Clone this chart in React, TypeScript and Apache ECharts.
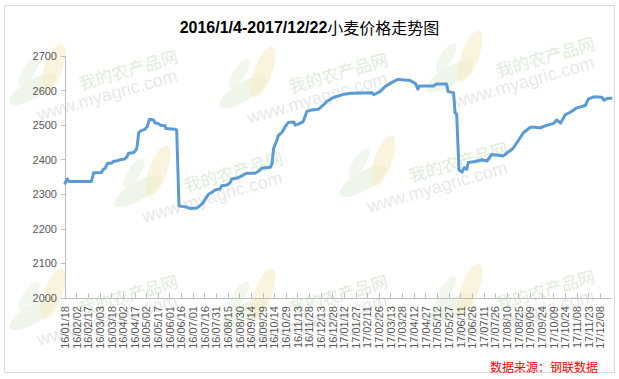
import React, { useEffect, useRef } from 'react';
import * as echarts from 'echarts';

// Axis range and tick layout
const axisStart = '2016-01-18';
const axisEnd = '2017-12-22';
const labelStepDays = 15;
const yMin = 2000;
const yMax = 2700;
const yStep = 100;

// Wheat price (元/吨) turning points
const priceDates = [
  '2016-01-18', '2016-01-21', '2016-01-23', '2016-02-21', '2016-02-24', '2016-03-05',
  '2016-03-07', '2016-03-10', '2016-03-13', '2016-03-18', '2016-03-20', '2016-03-27',
  '2016-03-29', '2016-04-04', '2016-04-07', '2016-04-09', '2016-04-16', '2016-04-19',
  '2016-04-20', '2016-04-22', '2016-04-25', '2016-04-30', '2016-05-03', '2016-05-06',
  '2016-05-11', '2016-05-13', '2016-05-17', '2016-05-20', '2016-05-26', '2016-05-27',
  '2016-06-08', '2016-06-10', '2016-06-13', '2016-06-16', '2016-06-23', '2016-06-27',
  '2016-07-06', '2016-07-10', '2016-07-14', '2016-07-21', '2016-07-25', '2016-07-30',
  '2016-08-05', '2016-08-07', '2016-08-14', '2016-08-18', '2016-08-20', '2016-08-27',
  '2016-08-31', '2016-09-04', '2016-09-08', '2016-09-19', '2016-09-23', '2016-09-28',
  '2016-10-09', '2016-10-11', '2016-10-13', '2016-10-17', '2016-10-19', '2016-10-24',
  '2016-10-28', '2016-11-01', '2016-11-08', '2016-11-10', '2016-11-14', '2016-11-20',
  '2016-11-25', '2016-12-01', '2016-12-10', '2016-12-14', '2016-12-21', '2016-12-29',
  '2017-01-11', '2017-01-20', '2017-02-17', '2017-02-19', '2017-02-27', '2017-03-06',
  '2017-03-14', '2017-03-23', '2017-03-27', '2017-04-07', '2017-04-14', '2017-04-17',
  '2017-04-19', '2017-05-07', '2017-05-11', '2017-05-24', '2017-05-26', '2017-06-02',
  '2017-06-04', '2017-06-06', '2017-06-09', '2017-06-13', '2017-06-16', '2017-06-19',
  '2017-06-21', '2017-06-30', '2017-07-09', '2017-07-15', '2017-07-21', '2017-07-30',
  '2017-08-05', '2017-08-10', '2017-08-17', '2017-08-25', '2017-08-31', '2017-09-09',
  '2017-09-15', '2017-09-22', '2017-09-28', '2017-10-09', '2017-10-13', '2017-10-18',
  '2017-10-24', '2017-10-31', '2017-11-08', '2017-11-19', '2017-11-23', '2017-11-30',
  '2017-12-10', '2017-12-13', '2017-12-17', '2017-12-22',
];
const priceValues = [
  2332, 2345, 2337, 2337, 2362, 2363,
  2371, 2376, 2390, 2390, 2395, 2398,
  2400, 2402, 2409, 2419, 2421, 2430,
  2438, 2478, 2484, 2488, 2496, 2517,
  2515, 2507, 2505, 2500, 2498, 2490,
  2488, 2486, 2267, 2265, 2263, 2259,
  2260, 2267, 2276, 2300, 2305, 2313,
  2315, 2325, 2327, 2334, 2344, 2347,
  2351, 2356, 2361, 2361, 2366, 2376,
  2378, 2390, 2433, 2455, 2470, 2480,
  2496, 2508, 2509, 2500, 2503, 2510,
  2540, 2544, 2546, 2554, 2569, 2580,
  2589, 2592, 2594, 2588, 2597, 2612,
  2623, 2633, 2631, 2629, 2620, 2604,
  2613, 2613, 2619, 2619, 2597, 2594,
  2535, 2532, 2371, 2364, 2377, 2372,
  2392, 2395, 2400, 2396, 2415, 2413,
  2411, 2420, 2431, 2457, 2478, 2494,
  2494, 2492, 2498, 2505, 2515, 2506,
  2530, 2538, 2550, 2557, 2576, 2582,
  2581, 2572, 2577, 2578,
];

const titleDates = '2016/1/4-2017/12/22';
const titleName = '小麦价格走势图';
const sourceNote = '数据来源：钢联数据';
const watermarkName = '我的农产品网';
const watermarkSite = 'www.myagric.com';

// Watermark tile anchors on the canvas
const watermarkSpots = [
  [45, 75], [255, 78], [462, 62],
  [150, 177], [375, 167],
  [45, 300], [255, 300], [462, 295],
];

const DAY_MS = 86400000;
const parseUtc = (s: string) => {
  const [y, m, d] = s.split('-').map(Number);
  return Date.UTC(y, m - 1, d);
};
const originMs = parseUtc(axisStart);
const toDay = (s: string) => Math.round((parseUtc(s) - originMs) / DAY_MS);
const pad2 = (n: number) => (n < 10 ? '0' + n : String(n));
const dayLabel = (v: number) => {
  const t = new Date(originMs + v * DAY_MS);
  return `${String(t.getUTCFullYear()).slice(2)}/${pad2(t.getUTCMonth() + 1)}/${pad2(t.getUTCDate())}`;
};

const logoGroup = (x: number, y: number) => ({
  type: 'group',
  x,
  y,
  silent: true,
  children: [
    { type: 'ellipse', shape: { cx: -12, cy: 14, rx: 27, ry: 9 }, rotation: 0.55, originX: -12, originY: 14, style: { fill: '#e3f0dc', opacity: 0.6 } },
    { type: 'ellipse', shape: { cx: -16, cy: -4, rx: 17, ry: 6 }, rotation: 1.0, originX: -16, originY: -4, style: { fill: '#e6f1de', opacity: 0.55 } },
    { type: 'ellipse', shape: { cx: 8, cy: -6, rx: 9, ry: 27 }, rotation: -0.35, originX: 8, originY: -6, style: { fill: '#f6ecc8', opacity: 0.6 } },
  ],
});

const watermarkText = (x: number, y: number) => [
  {
    type: 'text',
    x: x + 83,
    y: y - 6,
    rotation: 0.28,
    silent: true,
    style: { text: watermarkName, fill: '#cfe4c8', fontSize: 17, fontFamily: 'Noto Sans CJK SC', align: 'center', verticalAlign: 'middle', opacity: 0.7 },
  },
  {
    type: 'text',
    x: x + 62,
    y: y + 20,
    rotation: 0.28,
    silent: true,
    style: { text: watermarkSite, fill: '#dedede', fontSize: 18, fontFamily: 'Liberation Sans', align: 'center', verticalAlign: 'middle', opacity: 0.7 },
  },
];

export default function App() {
  const ref = useRef<HTMLDivElement>(null);

  useEffect(() => {
    if (!ref.current) return;
    const chart = echarts.init(ref.current, null, { renderer: 'svg' });
    const seriesData = priceDates.map((d, i) => [toDay(d), priceValues[i]]);

    const watermarks: any[] = [];
    watermarkSpots.forEach(([x, y]) => {
      watermarks.push(logoGroup(x, y));
      watermarks.push(...watermarkText(x, y));
    });

    chart.setOption({
      animation: false,
      backgroundColor: '#ffffff',
      title: {
        text: `{a|${titleDates}}{b|${titleName}}`,
        left: 'center',
        top: 14,
        textStyle: {
          rich: {
            a: { fontSize: 16, fontWeight: 'bold', fontFamily: 'Liberation Sans', color: '#000000' },
            b: { fontSize: 16, fontWeight: 'normal', fontFamily: 'Noto Sans CJK SC', color: '#000000' },
          },
        },
      },
      graphic: [
        ...watermarks,
        {
          type: 'rect',
          shape: { x: 4.5, y: 5.5, width: 610, height: 367 },
          silent: true,
          style: { fill: 'none', stroke: '#d9d9d9', lineWidth: 1 },
        },
        {
          type: 'text',
          x: 598,
          y: 366,
          style: {
            text: sourceNote,
            fill: '#ff0000',
            fontSize: 12,
            fontFamily: 'Noto Sans CJK SC',
            align: 'right',
            verticalAlign: 'middle',
          },
        },
      ],
      grid: { left: 65, right: 8, top: 56, bottom: 81, containLabel: false },
      xAxis: {
        type: 'value',
        min: 0,
        max: toDay(axisEnd),
        interval: labelStepDays,
        splitLine: { show: false },
        axisLine: { lineStyle: { color: '#bfbfbf', width: 1 } },
        axisTick: { show: true, inside: true, length: 5, lineStyle: { color: '#bfbfbf' } },
        axisLabel: {
          rotate: 90,
          margin: 8,
          fontSize: 11,
          fontFamily: 'Liberation Sans',
          color: '#595959',
          showMaxLabel: false,
          formatter: (v: number) => dayLabel(v),
        },
      },
      yAxis: {
        type: 'value',
        min: yMin,
        max: yMax,
        interval: yStep,
        splitLine: { show: false },
        axisLine: { show: true, lineStyle: { color: '#bfbfbf', width: 1 } },
        axisTick: { show: true, length: 4, lineStyle: { color: '#bfbfbf' } },
        axisLabel: {
          fontSize: 11,
          fontFamily: 'Liberation Sans',
          color: '#595959',
          margin: 8,
          formatter: (v: number) => String(v),
        },
      },
      series: [
        {
          type: 'line',
          data: seriesData,
          showSymbol: false,
          symbol: 'none',
          z: 5,
          lineStyle: { color: '#5b9bd5', width: 3, join: 'round', cap: 'round' },
        },
      ],
    });

    return () => chart.dispose();
  }, []);

  return (
    <div
      ref={ref}
      style={{ position: 'absolute', left: 0, top: 0, width: 619, height: 379, background: '#ffffff' }}
    />
  );
}
